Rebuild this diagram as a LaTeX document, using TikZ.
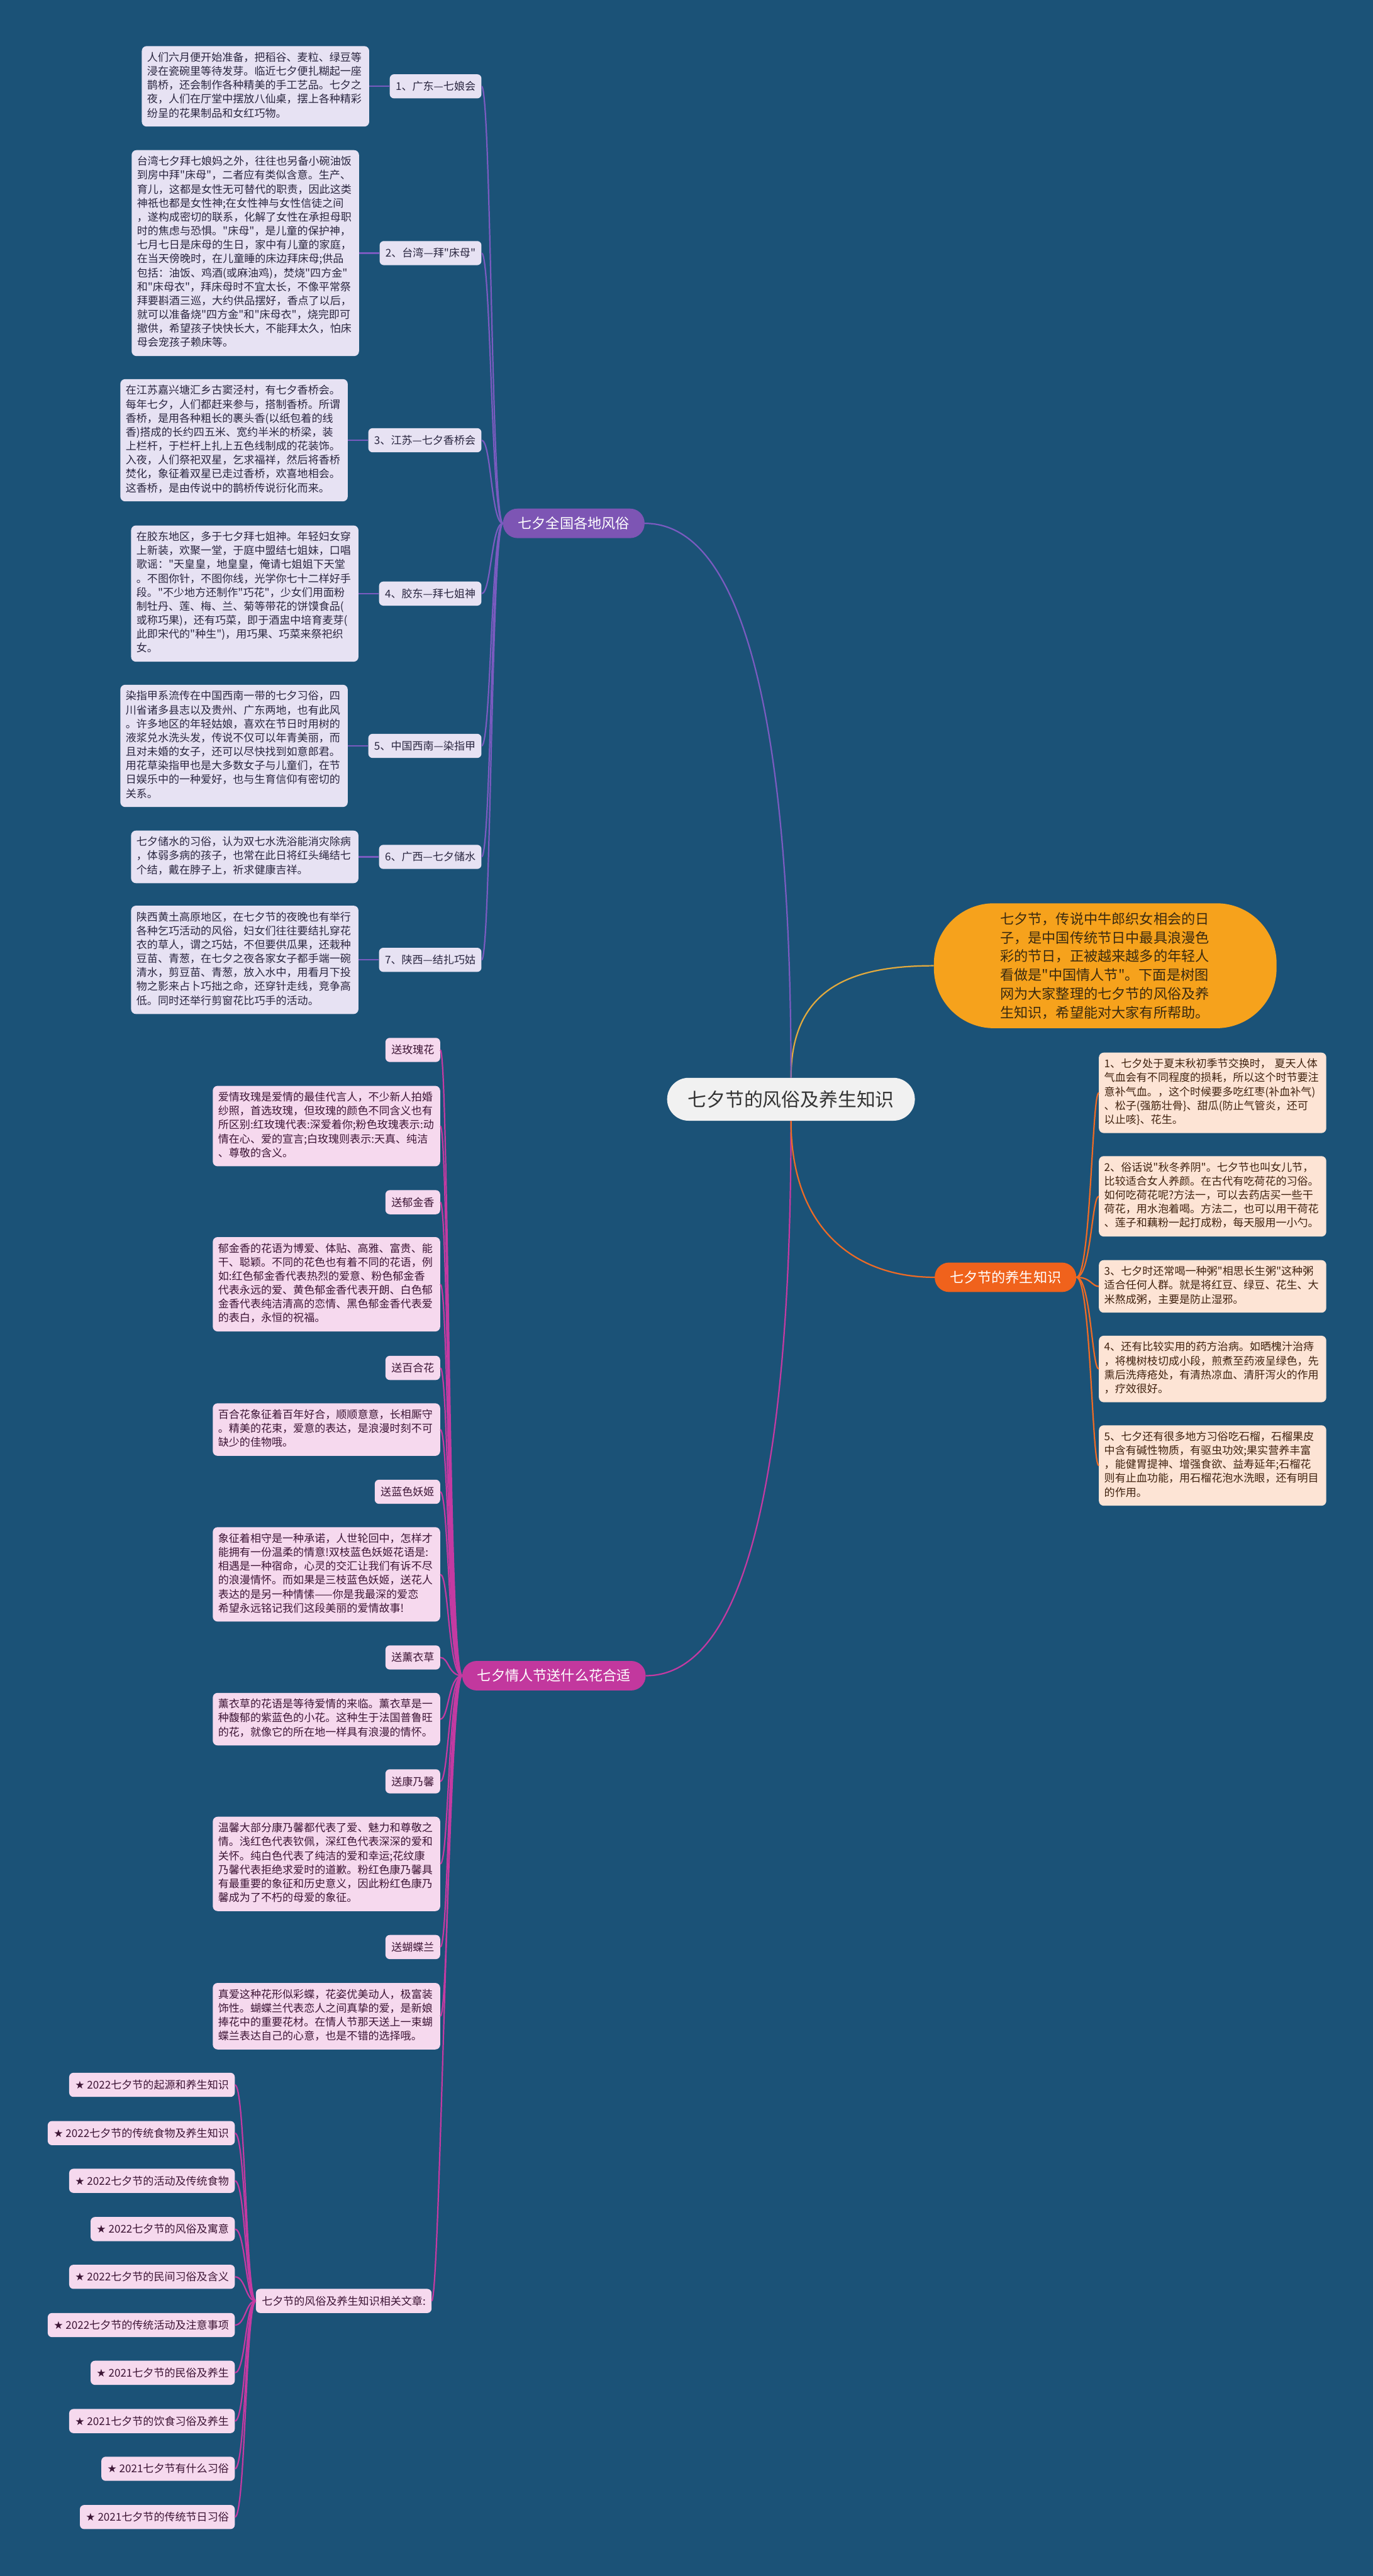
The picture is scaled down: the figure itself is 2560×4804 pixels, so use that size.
\documentclass[tikz,border=0pt]{standalone}
\usepackage{fontspec}
\setmainfont{Noto Sans CJK SC}[Ligatures=TeXOff]
\newfontfamily\symfont{DejaVu Sans}
\usetikzlibrary{positioning}
\definecolor{mapbg}{HTML}{1B5277}
\definecolor{custpurple}{HTML}{7D55B4}
\definecolor{custline}{HTML}{7A5BC0}
\definecolor{custfill}{HTML}{E7E2F3}
\definecolor{custtext}{HTML}{2A2640}
\definecolor{lovepink}{HTML}{C2389E}
\definecolor{loveline}{HTML}{C43AA2}
\definecolor{lovefill}{HTML}{F6D9EE}
\definecolor{lovetext}{HTML}{3D1535}
\definecolor{healthred}{HTML}{F0621C}
\definecolor{healthline}{HTML}{EE6B25}
\definecolor{healthfill}{HTML}{FDE4D5}
\definecolor{healthtext}{HTML}{40220F}
\definecolor{introyellow}{HTML}{F6A21C}
\definecolor{introline}{HTML}{E2AA3E}
\definecolor{introtext}{HTML}{3A2A10}
\definecolor{maingray}{HTML}{F1F1F1}
\newcommand{\bodyfont}{\fontsize{20}{26}\selectfont}
\newcommand{\starmark}{{\symfont ★}}

\begin{document}
\begin{tikzpicture}[x=1pt, y=-1pt, font=\bodyfont]
  \tikzstyle{branch}=[rounded corners=27pt, minimum height=55pt, inner xsep=28pt, text=white, font=\fontsize{26}{32}\selectfont]
  \tikzstyle{lab}=[rounded corners=8pt, minimum height=45pt, inner xsep=11pt, inner ysep=0pt]
  \tikzstyle{txt}=[rounded corners=9pt, text width=404pt, align=left, inner xsep=10pt, inner ysep=10pt, execute at begin node=\noindent\strut, execute at end node=\strut]
  \tikzstyle{custlab}=[lab, fill=custfill, text=custtext]
  \tikzstyle{custtxt}=[txt, fill=custfill, text=custtext]
  \tikzstyle{lovelab}=[lab, fill=lovefill, text=lovetext]
  \tikzstyle{lovetxt}=[txt, fill=lovefill, text=lovetext]
  \tikzstyle{healthtxt}=[txt, fill=healthfill, text=healthtext]
  \tikzstyle{custedge}=[draw=custline, line width=2.6pt]
  \tikzstyle{loveedge}=[draw=loveline, line width=2.6pt]
  \tikzstyle{healthedge}=[draw=healthline, line width=2.6pt]
  \tikzstyle{introedge}=[draw=introline, line width=2.6pt]

  \useasboundingbox (0,0) rectangle (2560,4804);
  \fill[mapbg] (0,0) rectangle (2560,4804);

  % centre and intro
  \node[fill=maingray, text=black!80, rounded corners=40pt, minimum width=462pt, minimum height=80pt, font=\fontsize{35}{40}\selectfont] (main) at (1475,2050) {七夕节的风俗及养生知识};
  \node[fill=introyellow, text=introtext, rounded corners=112pt, minimum width=639pt, minimum height=233pt, text width=392pt, align=left, font=\fontsize{26}{35}\selectfont] (intro) at (2061,1801) {七夕节，传说中牛郎织女相会的日\\子，是中国传统节日中最具浪漫色\\彩的节日，正被越来越多的年轻人\\看做是"中国情人节"。下面是树图\\网为大家整理的七夕节的风俗及养\\生知识，希望能对大家有所帮助。};

  % branches
  \node[branch, fill=custpurple] (cust) at (1070,976) {七夕全国各地风俗};
  \node[branch, fill=lovepink] (love) at (1033,3125) {七夕情人节送什么花合适};
  \node[branch, fill=healthred] (health) at (1875,2382) {七夕节的养生知识};

  \draw[introedge] (main.north) .. controls +(0,-170) and +(-150,0) .. (intro.west);
  \draw[custedge] (main.north) .. controls +(0,-600) and +(200,0) .. (cust.east);
  \draw[loveedge] (main.south) .. controls +(0,600) and +(200,0) .. (love.east);
  \draw[healthedge] (main.south) .. controls +(0,200) and +(-150,0) .. (health.west);

  % customs
  \node[custlab, anchor=east] (c1) at (898,161) {1、广东—七娘会};
  \node[custlab, anchor=east] (c2) at (898,472) {2、台湾—拜"床母"};
  \node[custlab, anchor=east] (c3) at (898,821) {3、江苏—七夕香桥会};
  \node[custlab, anchor=east] (c4) at (898,1107) {4、胶东—拜七姐神};
  \node[custlab, anchor=east] (c5) at (898,1391) {5、中国西南—染指甲};
  \node[custlab, anchor=east] (c6) at (898,1598) {6、广西—七夕储水};
  \node[custlab, anchor=east] (c7) at (898,1790) {7、陕西—结扎巧姑};

  \node[custtxt, left=38pt of c1] (ct1) {人们六月便开始准备，把稻谷、麦粒、绿豆等\\浸在瓷碗里等待发芽。临近七夕便扎糊起一座\\鹊桥，还会制作各种精美的手工艺品。七夕之\\夜，人们在厅堂中摆放八仙桌，摆上各种精彩\\纷呈的花果制品和女红巧物。};
  \node[custtxt, left=38pt of c2] (ct2) {台湾七夕拜七娘妈之外，往往也另备小碗油饭\\到房中拜"床母"，二者应有类似含意。生产、\\育儿，这都是女性无可替代的职责，因此这类\\神祇也都是女性神;在女性神与女性信徒之间\\，遂构成密切的联系，化解了女性在承担母职\\时的焦虑与恐惧。"床母"，是儿童的保护神，\\七月七日是床母的生日，家中有儿童的家庭，\\在当天傍晚时，在儿童睡的床边拜床母;供品\\包括：油饭、鸡酒(或麻油鸡)，焚烧"四方金"\\和"床母衣"，拜床母时不宜太长，不像平常祭\\拜要斟酒三巡，大约供品摆好，香点了以后，\\就可以准备烧"四方金"和"床母衣"，烧完即可\\撤供，希望孩子快快长大，不能拜太久，怕床\\母会宠孩子赖床等。};
  \node[custtxt, left=38pt of c3] (ct3) {在江苏嘉兴塘汇乡古窦泾村，有七夕香桥会。\\每年七夕，人们都赶来参与，搭制香桥。所谓\\香桥，是用各种粗长的裹头香(以纸包着的线\\香)搭成的长约四五米、宽约半米的桥梁，装\\上栏杆，于栏杆上扎上五色线制成的花装饰。\\入夜，人们祭祀双星，乞求福祥，然后将香桥\\焚化，象征着双星已走过香桥，欢喜地相会。\\这香桥，是由传说中的鹊桥传说衍化而来。};
  \node[custtxt, left=38pt of c4] (ct4) {在胶东地区，多于七夕拜七姐神。年轻妇女穿\\上新装，欢聚一堂，于庭中盟结七姐妹，口唱\\歌谣："天皇皇，地皇皇，俺请七姐姐下天堂\\。不图你针，不图你线，光学你七十二样好手\\段。"不少地方还制作"巧花"，少女们用面粉\\制牡丹、莲、梅、兰、菊等带花的饼馍食品(\\或称巧果)，还有巧菜，即于酒盅中培育麦芽(\\此即宋代的"种生")，用巧果、巧菜来祭祀织\\女。};
  \node[custtxt, left=38pt of c5] (ct5) {染指甲系流传在中国西南一带的七夕习俗，四\\川省诸多县志以及贵州、广东两地，也有此风\\。许多地区的年轻姑娘，喜欢在节日时用树的\\液浆兑水洗头发，传说不仅可以年青美丽，而\\且对未婚的女子，还可以尽快找到如意郎君。\\用花草染指甲也是大多数女子与儿童们，在节\\日娱乐中的一种爱好，也与生育信仰有密切的\\关系。};
  \node[custtxt, left=38pt of c6] (ct6) {七夕储水的习俗，认为双七水洗浴能消灾除病\\，体弱多病的孩子，也常在此日将红头绳结七\\个结，戴在脖子上，祈求健康吉祥。};
  \node[custtxt, left=38pt of c7] (ct7) {陕西黄土高原地区，在七夕节的夜晚也有举行\\各种乞巧活动的风俗，妇女们往往要结扎穿花\\衣的草人，谓之巧姑，不但要供瓜果，还栽种\\豆苗、青葱，在七夕之夜各家女子都手端一碗\\清水，剪豆苗、青葱，放入水中，用看月下投\\物之影来占卜巧拙之命，还穿针走线，竞争高\\低。同时还举行剪窗花比巧手的活动。};

  \foreach \i in {1,...,7} {
    \draw[custedge] (ct\i) -- (c\i);
    \draw[custedge] (c\i.east) .. controls +(18,0) and +(-22,0) .. (cust.west);
  }

  % flowers
  \node[lovelab, anchor=east] (f1) at (821,1958) {送玫瑰花};
  \node[lovetxt, anchor=east] (ft1) at (821,2100) {爱情玫瑰是爱情的最佳代言人，不少新人拍婚\\纱照，首选玫瑰，但玫瑰的颜色不同含义也有\\所区别:红玫瑰代表:深爱着你;粉色玫瑰表示:动\\情在心、爱的宣言;白玫瑰则表示:天真、纯洁\\、尊敬的含义。};
  \node[lovelab, anchor=east] (f2) at (821,2242) {送郁金香};
  \node[lovetxt, anchor=east] (ft2) at (821,2395) {郁金香的花语为博爱、体贴、高雅、富贵、能\\干、聪颖。不同的花色也有着不同的花语，例\\如:红色郁金香代表热烈的爱意、粉色郁金香\\代表永远的爱、黄色郁金香代表开朗、白色郁\\金香代表纯洁清高的恋情、黑色郁金香代表爱\\的表白，永恒的祝福。};
  \node[lovelab, anchor=east] (f3) at (821,2551) {送百合花};
  \node[lovetxt, anchor=east] (ft3) at (821,2666) {百合花象征着百年好合，顺顺意意，长相厮守\\。精美的花束，爱意的表达，是浪漫时刻不可\\缺少的佳物哦。};
  \node[lovelab, anchor=east] (f4) at (821,2782) {送蓝色妖姬};
  \node[lovetxt, anchor=east] (ft4) at (821,2936) {象征着相守是一种承诺，人世轮回中，怎样才\\能拥有一份温柔的情意!双枝蓝色妖姬花语是:\\相遇是一种宿命，心灵的交汇让我们有诉不尽\\的浪漫情怀。而如果是三枝蓝色妖姬，送花人\\表达的是另一种情愫——你是我最深的爱恋\\希望永远铭记我们这段美丽的爱情故事!};
  \node[lovelab, anchor=east] (f5) at (821,3091) {送薰衣草};
  \node[lovetxt, anchor=east] (ft5) at (821,3206) {薰衣草的花语是等待爱情的来临。薰衣草是一\\种馥郁的紫蓝色的小花。这种生于法国普鲁旺\\的花，就像它的所在地一样具有浪漫的情怀。};
  \node[lovelab, anchor=east] (f6) at (821,3322) {送康乃馨};
  \node[lovetxt, anchor=east] (ft6) at (821,3476) {温馨大部分康乃馨都代表了爱、魅力和尊敬之\\情。浅红色代表钦佩，深红色代表深深的爱和\\关怀。纯白色代表了纯洁的爱和幸运;花纹康\\乃馨代表拒绝求爱时的道歉。粉红色康乃馨具\\有最重要的象征和历史意义，因此粉红色康乃\\馨成为了不朽的母爱的象征。};
  \node[lovelab, anchor=east] (f7) at (821,3631) {送蝴蝶兰};
  \node[lovetxt, anchor=east] (ft7) at (821,3760) {真爱这种花形似彩蝶，花姿优美动人，极富装\\饰性。蝴蝶兰代表恋人之间真挚的爱，是新娘\\捧花中的重要花材。在情人节那天送上一束蝴\\蝶兰表达自己的心意，也是不错的选择哦。};

  \foreach \i in {1,...,7} {
    \draw[loveedge] (f\i.east) .. controls +(16,0) and +(-26,0) .. (love.west);
    \draw[loveedge] (ft\i.east) .. controls +(16,0) and +(-26,0) .. (love.west);
  }

  % related articles
  \node[lovelab, anchor=west] (rel) at (477,4291) {七夕节的风俗及养生知识相关文章:};
  \node[lovelab, anchor=east] (r1) at (438,3888) {\starmark{} 2022七夕节的起源和养生知识};
  \node[lovelab, anchor=east] (r2) at (438,3978) {\starmark{} 2022七夕节的传统食物及养生知识};
  \node[lovelab, anchor=east] (r3) at (438,4067) {\starmark{} 2022七夕节的活动及传统食物};
  \node[lovelab, anchor=east] (r4) at (438,4157) {\starmark{} 2022七夕节的风俗及寓意};
  \node[lovelab, anchor=east] (r5) at (438,4246) {\starmark{} 2022七夕节的民间习俗及含义};
  \node[lovelab, anchor=east] (r6) at (438,4336) {\starmark{} 2022七夕节的传统活动及注意事项};
  \node[lovelab, anchor=east] (r7) at (438,4425) {\starmark{} 2021七夕节的民俗及养生};
  \node[lovelab, anchor=east] (r8) at (438,4515) {\starmark{} 2021七夕节的饮食习俗及养生};
  \node[lovelab, anchor=east] (r9) at (438,4604) {\starmark{} 2021七夕节有什么习俗};
  \node[lovelab, anchor=east] (r10) at (438,4694) {\starmark{} 2021七夕节的传统节日习俗};

  \draw[loveedge] (rel.east) .. controls +(16,0) and +(-26,0) .. (love.west);
  \foreach \i in {1,...,10}
    \draw[loveedge] (r\i.east) .. controls +(20,0) and +(-19,0) .. (rel.west);

  % health
  \node[healthtxt, anchor=west] (h1) at (2049,2038) {1、七夕处于夏末秋初季节交换时， 夏天人体\\气血会有不同程度的损耗，所以这个时节要注\\意补气血。，这个时候要多吃红枣(补血补气)\\、松子(强筋壮骨\}、甜瓜(防止气管炎，还可\\以止咳\}、花生。};
  \node[healthtxt, anchor=west] (h2) at (2049,2231) {2、俗话说"秋冬养阴"。七夕节也叫女儿节，\\比较适合女人养颜。在古代有吃荷花的习俗。\\如何吃荷花呢?方法一，可以去药店买一些干\\荷花，用水泡着喝。方法二，也可以用干荷花\\、莲子和藕粉一起打成粉，每天服用一小勺。};
  \node[healthtxt, anchor=west] (h3) at (2049,2399) {3、七夕时还常喝一种粥"相思长生粥"这种粥\\适合任何人群。就是将红豆、绿豆、花生、大\\米熬成粥，主要是防止湿邪。};
  \node[healthtxt, anchor=west] (h4) at (2049,2553) {4、还有比较实用的药方治病。如晒槐汁治痔\\，将槐树枝切成小段，煎煮至药液呈绿色，先\\熏后洗痔疮处，有清热凉血、清肝泻火的作用\\，疗效很好。};
  \node[healthtxt, anchor=west] (h5) at (2049,2733) {5、七夕还有很多地方习俗吃石榴，石榴果皮\\中含有碱性物质，有驱虫功效;果实营养丰富\\，能健胃提神、增强食欲、益寿延年;石榴花\\则有止血功能，用石榴花泡水洗眼，还有明目\\的作用。};

  \foreach \i in {1,...,5}
    \draw[healthedge] (health.east) .. controls +(27,0) and +(-13,0) .. (h\i.west);
\end{tikzpicture}
\end{document}
